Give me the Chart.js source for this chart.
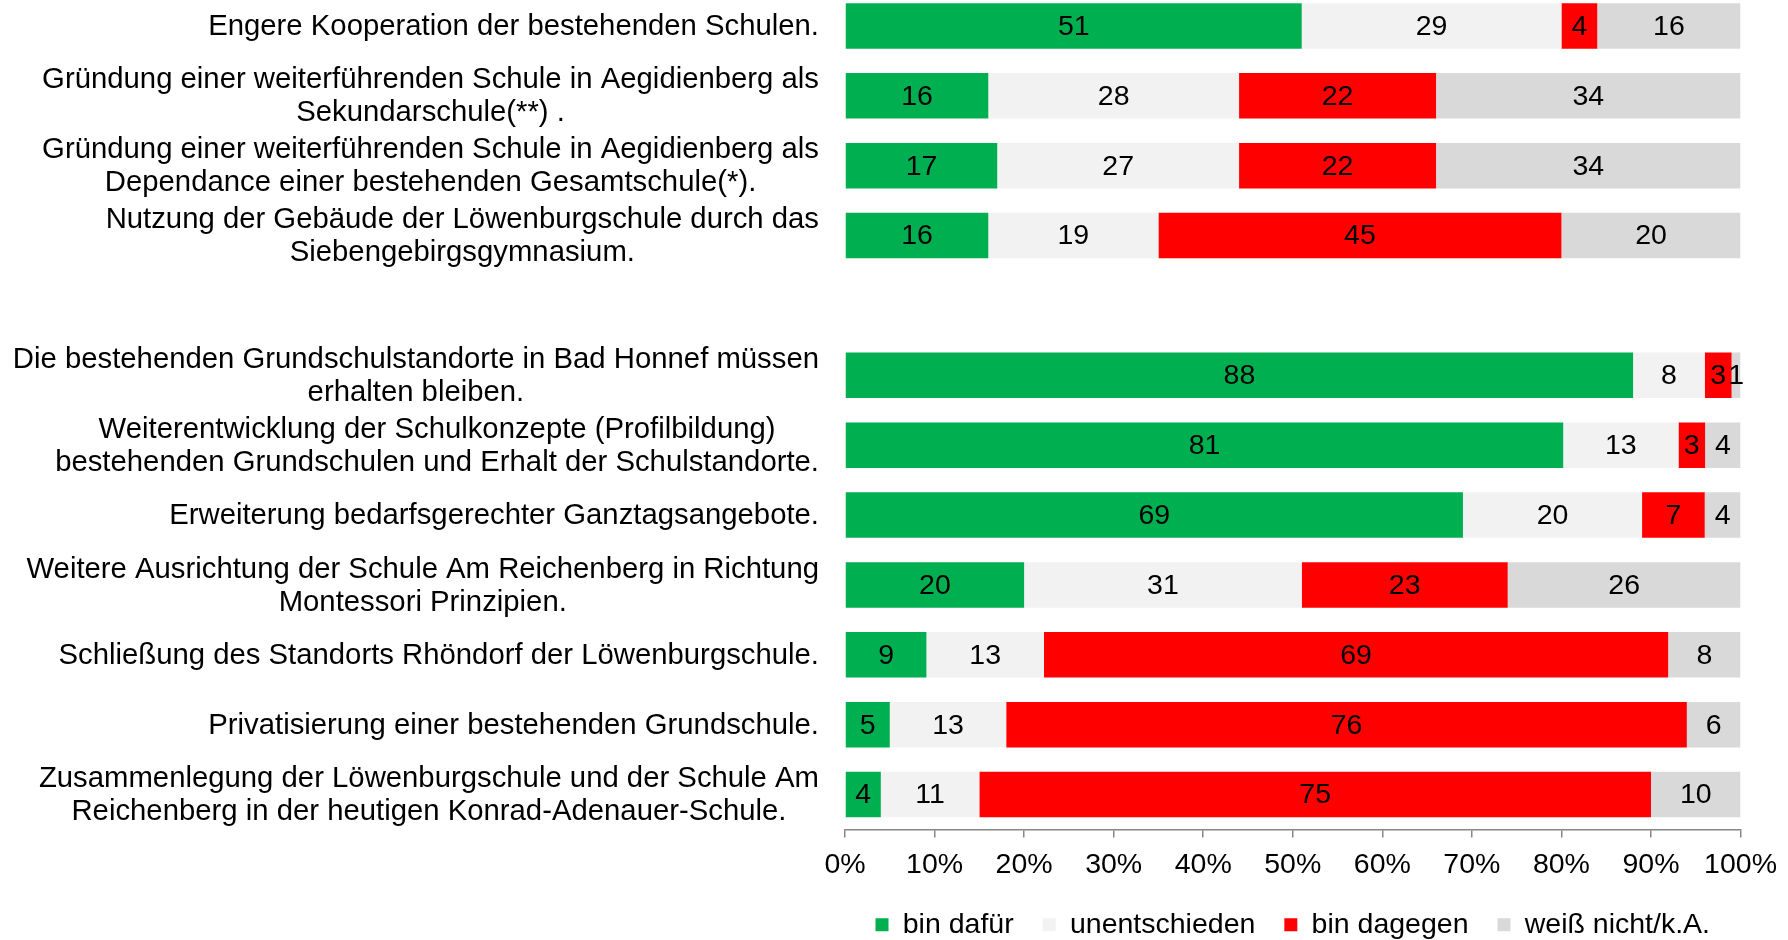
<!DOCTYPE html>
<html>
<head>
<meta charset="utf-8">
<script src="https://cdn.jsdelivr.net/npm/chart.js@4/dist/chart.umd.min.js"></script>
<style>
  html, body { margin: 0; padding: 0; background: #fff; overflow: hidden; }
  #wrap { position: relative; width: 1788px; height: 940px; overflow: hidden; }
  #chart { position: absolute; left: 0; top: -9px; }
</style>
</head>
<body>
<div id="wrap"><canvas id="chart" width="1788" height="958"></canvas></div>
<script>
// ── Data ──────────────────────────────────────────────────────────────────────
const categories = [
  'Engere Kooperation der bestehenden Schulen.',
  ['Gründung einer weiterführenden Schule in Aegidienberg als', 'Sekundarschule(**) .'],
  ['Gründung einer weiterführenden Schule in Aegidienberg als', 'Dependance einer bestehenden Gesamtschule(*).'],
  ['Nutzung der Gebäude der Löwenburgschule durch das', 'Siebengebirgsgymnasium.'],
  '',
  ['Die bestehenden Grundschulstandorte in Bad Honnef müssen', 'erhalten bleiben.'],
  ['Weiterentwicklung der Schulkonzepte (Profilbildung)', 'bestehenden Grundschulen und Erhalt der Schulstandorte.'],
  'Erweiterung bedarfsgerechter Ganztagsangebote.',
  ['Weitere Ausrichtung der Schule Am Reichenberg in Richtung', 'Montessori Prinzipien.'],
  'Schließung des Standorts Rhöndorf der Löwenburgschule.',
  'Privatisierung einer bestehenden Grundschule.',
  ['Zusammenlegung der Löwenburgschule und der Schule Am', 'Reichenberg in der heutigen Konrad-Adenauer-Schule.'],
];

const seriesNames = ['bin dafür', 'unentschieden', 'bin dagegen', 'weiß nicht/k.A.'];
const seriesColors = ['#00b050', '#f2f2f2', '#ff0000', '#d9d9d9'];

const dafuer        = [51, 16, 17, 16, null, 88, 81, 69, 20,  9,  5,  4];
const unentschieden = [29, 28, 27, 19, null,  8, 13, 20, 31, 13, 13, 11];
const dagegen       = [ 4, 22, 22, 45, null,  3,  3,  7, 23, 69, 76, 75];
const weissNicht    = [16, 34, 34, 20, null,  1,  4,  4, 26,  8,  6, 10];

const xTicks = [0, 10, 20, 30, 40, 50, 60, 70, 80, 90, 100];

// ── Build 100% shares (rows don't always sum to exactly 100) ─────────────────
const raw = [dafuer, unentschieden, dagegen, weissNicht];
const rowSums = categories.map((_, i) => raw.reduce((s, arr) => s + (arr[i] || 0), 0));
const shares = raw.map(arr => arr.map((v, i) => v == null ? null : v / rowSums[i] * 100));

const FONT = '"Liberation Sans", Arial, sans-serif';

// value labels centred in each segment
const valueLabels = {
  id: 'valueLabels',
  afterDatasetsDraw(chart) {
    const ctx = chart.ctx;
    ctx.save();
    ctx.font = `28.5px ${FONT}`;
    ctx.fillStyle = '#000';
    ctx.textAlign = 'center';
    ctx.textBaseline = 'middle';
    chart.data.datasets.forEach((ds, di) => {
      chart.getDatasetMeta(di).data.forEach((el, i) => {
        const v = raw[di][i];
        if (v == null) return;
        const p = el.getCenterPoint();
        ctx.fillText(String(v), p.x, p.y + 1);
      });
    });
    ctx.restore();
  }
};

// category labels: block right-aligned, lines centred inside the block (Excel style)
const categoryLabels = {
  id: 'categoryLabels',
  afterDraw(chart) {
    const ctx = chart.ctx;
    const y = chart.scales.y;
    const right = chart.chartArea.left - 26;
    const lh = 33;
    ctx.save();
    ctx.font = `29.3px ${FONT}`;
    ctx.fillStyle = '#000';
    ctx.textAlign = 'center';
    ctx.textBaseline = 'middle';
    categories.forEach((lab, i) => {
      const lines = Array.isArray(lab) ? lab : [lab];
      if (!lines[0]) return;
      const w = Math.max(...lines.map(l => ctx.measureText(l).width));
      const cx = right - w / 2;
      const cy = y.getPixelForValue(i);
      lines.forEach((l, k) => {
        ctx.fillText(l, cx, cy + (k - (lines.length - 1) / 2) * lh + 1);
      });
    });
    ctx.restore();
  }
};

new Chart(document.getElementById('chart'), {
  type: 'bar',
  data: {
    labels: categories,
    datasets: seriesNames.map((name, i) => ({
      label: name,
      data: shares[i],
      backgroundColor: seriesColors[i],
      borderWidth: 0,
      barPercentage: 0.65,
      categoryPercentage: 1.0,
    }))
  },
  options: {
    indexAxis: 'y',
    responsive: false,
    devicePixelRatio: 1,
    animation: false,
    layout: { padding: { left: 845, right: 46, top: 0, bottom: 0 } },
    scales: {
      x: {
        stacked: true,
        min: 0, max: 100,
        afterBuildTicks: s => { s.ticks = xTicks.map(v => ({ value: v })); },
        afterFit: s => { s.height = 52; },
        border: { display: true, color: '#868686', width: 1.5 },
        grid: { display: true, drawOnChartArea: false, drawTicks: true, tickLength: 8, color: '#868686', lineWidth: 1.5 },
        ticks: {
          color: '#000',
          padding: 11,
          maxRotation: 0,
          autoSkip: false,
          font: { family: FONT, size: 28.5 },
          callback: v => v + '%'
        }
      },
      y: {
        stacked: true,
        display: false,
      }
    },
    plugins: {
      legend: {
        position: 'bottom',
        fullSize: false,
        labels: {
          color: '#000',
          boxWidth: 13,
          boxHeight: 13,
          padding: 29,
          font: { family: FONT, size: 28.5 }
        }
      },
      tooltip: { enabled: false }
    }
  },
  plugins: [valueLabels, categoryLabels]
});
</script>
</body>
</html>
